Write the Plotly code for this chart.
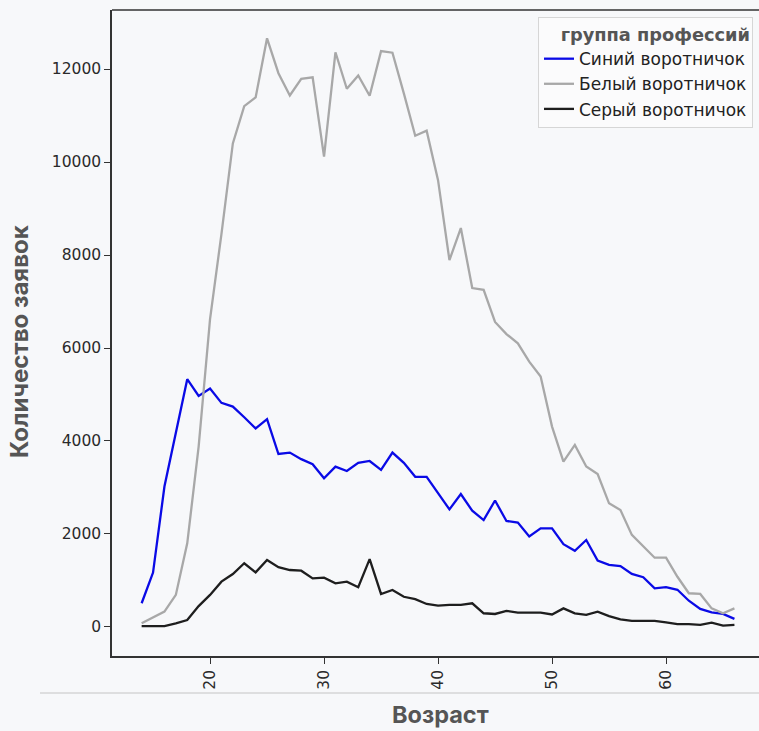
import plotly.graph_objects as go

ages = list(range(14, 67))

blue_collar = [510, 1170, 3020, 4150, 5330, 4970, 5130, 4820, 4740, 4510,
               4270, 4470, 3720, 3750, 3610, 3500, 3200, 3450, 3355, 3530,
               3570, 3380, 3750, 3530, 3230, 3230, 2870, 2530, 2860, 2500,
               2300, 2720, 2280, 2245, 1945, 2120, 2120, 1780, 1640, 1870,
               1430, 1335, 1310, 1140, 1070, 830, 855, 800, 565, 390,
               315, 280, 175]

white_collar = [80, 200, 330, 690, 1800, 3880, 6620, 8450, 10400, 11200,
                11390, 12660, 11910, 11430, 11790, 11820, 10115, 12360, 11575, 11860,
                11425, 12385, 12350, 11475, 10565, 10675, 9610, 7890, 8580, 7290,
                7250, 6560, 6300, 6100, 5705, 5385, 4310, 3555, 3915, 3450,
                3290, 2660, 2515, 1980, 1725, 1490, 1490, 1080, 725, 710,
                400, 295, 400]

grey_collar = [20, 20, 20, 80, 150, 450, 690, 975, 1140, 1370,
               1175, 1440, 1285, 1225, 1210, 1045, 1060, 940, 975, 855,
               1460, 710, 795, 650, 600, 495, 460, 475, 475, 510,
               295, 280, 345, 310, 310, 310, 270, 400, 295, 260,
               330, 235, 165, 130, 130, 130, 100, 60, 60, 45,
               95, 30, 45]

series_names = ["Синий воротничок", "Белый воротничок", "Серый воротничок"]
series_values = [blue_collar, white_collar, grey_collar]
series_colors = ["#0a0ae6", "#a8a8a8", "#1e1e1e"]

x_ticks = [20, 30, 40, 50, 60]
y_ticks = [0, 2000, 4000, 6000, 8000, 10000, 12000]

W, H = 759, 731
L, R, T, B = 112, 0, 10, 75
pw, ph = W - L - R, H - T - B

def px(xp):
    return (xp - L) / pw

def py(yp):
    return (H - B - yp) / ph

BG = "#f7f8fa"

fig = go.Figure()
for name, vals, col in zip(series_names, series_values, series_colors):
    fig.add_trace(go.Scatter(x=ages, y=vals, mode="lines", name=name,
                             line=dict(color=col, width=2.3)))

tick_font = dict(family="DejaVu Sans", size=15.5, color="#2a2a2a")

fig.update_layout(
    width=W, height=H,
    margin=dict(l=L, r=R, t=T, b=B, pad=0),
    paper_bgcolor=BG, plot_bgcolor=BG,
    showlegend=True,
    legend=dict(
        x=px(753), y=py(17), xanchor="right", yanchor="top",
        bgcolor="#fbfbfc", bordercolor="#d6d6d6", borderwidth=1,
        font=dict(family="DejaVu Sans", size=17, color="#222222"),
        title=dict(text="<b>группа профессий</b>", side="top right",
                   font=dict(family="DejaVu Sans", size=17.8, color="#555555")),
        itemwidth=30,
    ),
    xaxis=dict(
        range=[11.4, 11.4 + pw / 11.4],
        tickmode="array", tickvals=x_ticks, ticktext=[str(v) for v in x_ticks],
        tickangle=-90, ticks="outside", ticklen=6, tickwidth=1.2, tickcolor="#333",
        showgrid=False, zeroline=False,
        showline=True, linecolor="#333333", linewidth=1.5,
        tickfont=tick_font,
    ),
    yaxis=dict(
        range=[-624, 13269],
        tickmode="array", tickvals=y_ticks, ticktext=[str(v) for v in y_ticks],
        ticks="outside", ticklen=6, tickwidth=1.2, tickcolor="#333",
        showgrid=False, zeroline=False,
        showline=True, linecolor="#333333", linewidth=1.5,
        tickfont=tick_font,
    ),
    shapes=[
        dict(type="line", xref="paper", yref="paper", x0=0, x1=1, y0=1, y1=1,
             line=dict(color="#333333", width=1.5)),
        dict(type="line", xref="paper", yref="paper", x0=px(40), x1=1,
             y0=py(693), y1=py(693), line=dict(color="#c4c4c4", width=1)),
    ],
    annotations=[
        dict(text="<b>Возраст</b>", xref="paper", yref="paper",
             x=px(440), y=py(714), xanchor="center", yanchor="middle",
             showarrow=False,
             font=dict(family="Inter", size=23.5, color="#555555")),
        dict(text="<b>Количество заявок</b>", xref="paper", yref="paper",
             x=px(20), y=py(342), xanchor="center", yanchor="middle",
             textangle=-90, showarrow=False,
             font=dict(family="Inter", size=24, color="#555555")),
    ],
)

fig.write_html("out.html",
               config={"displayModeBar": False},
               post_script="document.body.style.margin='0';document.body.style.overflow='hidden';")
